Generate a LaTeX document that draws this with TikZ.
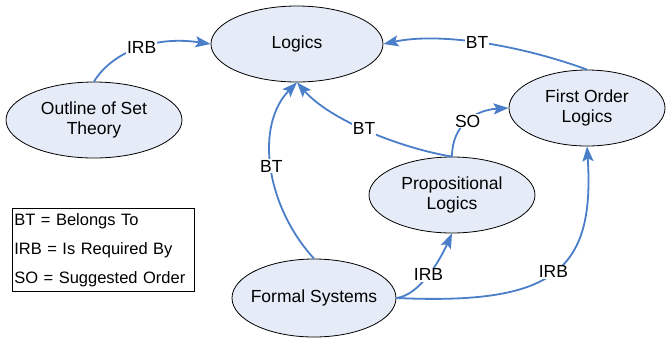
\documentclass[tikz,border=0pt]{standalone}
\usepackage{fontspec}
\setmainfont{Liberation Sans}
\usetikzlibrary{shapes.geometric, arrows.meta}

\definecolor{linkblue}{HTML}{4A7EC8}
\definecolor{conceptfill}{HTML}{E6ECF7}

\begin{document}
\begin{tikzpicture}[x=1pt, y=-1pt,
    font=\fontsize{17.5}{20}\selectfont,
    concept/.style={ellipse, draw=black, line width=0.8pt, fill=conceptfill, align=center, inner sep=0pt},
    link/.style={draw=linkblue, line width=1.8pt, -{Stealth[length=15pt, width=11pt, inset=3pt]}},
    lbl/.style={fill=white, inner sep=1pt}]
    \useasboundingbox (0,0) rectangle (666,341);

    \node[concept, minimum width=172, minimum height=76] (log) at (297,44)  {Logics};
    \node[concept, minimum width=176, minimum height=76] (ost) at (94,120)  {Outline of Set\\Theory};
    \node[concept, minimum width=156, minimum height=76] (fol) at (587,108) {First Order\\Logics};
    \node[concept, minimum width=166, minimum height=76] (pl)  at (452,195) {Propositional\\Logics};
    \node[concept, minimum width=164, minimum height=78, inner xsep=-10pt] (fs) at (314,298) {Formal Systems};

    % legend
    \node[draw=black, line width=0.6pt, anchor=north west, minimum width=182, minimum height=83,
          text width=178, inner xsep=2pt, align=left, font=\fontsize{16.5}{29}\selectfont]
          (key) at (12,208) {BT = Belongs To\\IRB = Is Required By\\SO = Suggested Order};

    \draw[link] (ost.north) .. controls (110,55) and (150,35) .. node[lbl, pos=0.55] {IRB} (log.west);
    \draw[link] (fol.north) .. controls (520,45) and (440,32) .. node[lbl, pos=0.52] {BT} (log.east);
    \draw[link] (pl.north) .. controls (400,148) and (330,120) .. node[lbl, pos=0.52] {BT} (log.south);
    \draw[link] (fs.north) .. controls (265,205) and (255,125) .. node[lbl, pos=0.5] {BT} (log.south);
    \draw[link] (pl.north) .. controls (452,125) and (475,110) .. node[lbl, pos=0.5] {SO} (fol.west);
    \draw[link] (fs.east) .. controls (420,295) and (440,260) .. node[lbl, pos=0.5] {IRB} (pl.south);
    \draw[link] (fs.east) .. controls (553,305) and (595,272) .. node[lbl, pos=0.5] {IRB} (fol.south);
\end{tikzpicture}
\end{document}
